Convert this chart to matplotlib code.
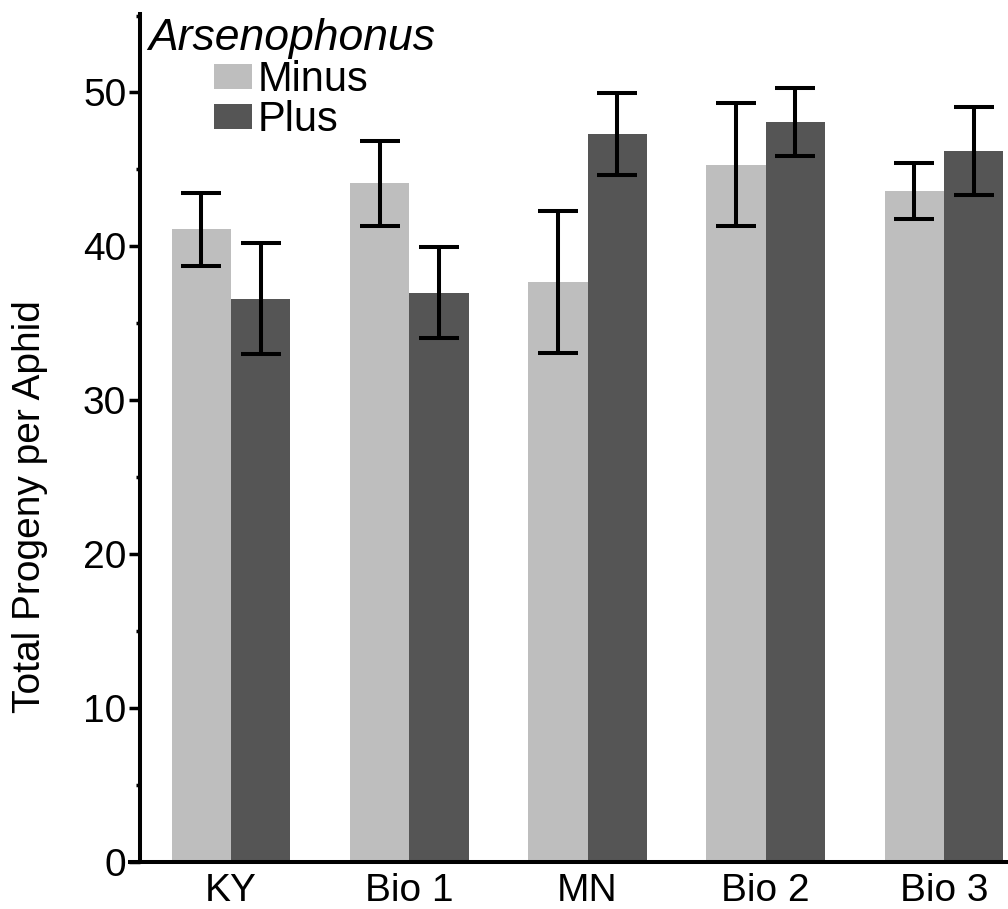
import numpy as np
import matplotlib
matplotlib.use("Agg")
import matplotlib.pyplot as plt
from matplotlib import font_manager
from matplotlib.ticker import MultipleLocator

# police étroite si elle existe, sinon Liberation Sans
noms = [f.name for f in font_manager.fontManager.ttflist]
if 'Liberation Sans Narrow' in noms:
    plt.rcParams['font.family'] = ['Liberation Sans Narrow', 'DejaVu Sans']
else:
    plt.rcParams['font.family'] = ['Liberation Sans', 'DejaVu Sans']

# valeurs
lignees = ['KY', 'Bio 1', 'MN', 'Bio 2', 'Bio 3']
minus = [41.1, 44.1, 37.7, 45.3, 43.6]
minus_err = [2.4, 2.75, 4.6, 4.0, 1.85]
plus = [36.6, 37.0, 47.3, 48.1, 46.2]
plus_err = [3.6, 2.95, 2.65, 2.2, 2.85]

x = np.arange(len(lignees))
w = 0.333

fig = plt.figure(figsize=(10.08, 9.09), dpi=100)
ax = fig.add_axes([130/1008, 1-862/909, 1-130/1008, (862-14)/909])

ax.bar(x - w/2, minus, w, color='#bebebe', label='Minus')
ax.bar(x + w/2, plus, w, color='#555555', label='Plus')
ax.errorbar(x - w/2, minus, yerr=minus_err, fmt='none', ecolor='black',
            elinewidth=2.9, capsize=14.4, capthick=2.9)
ax.errorbar(x + w/2, plus, yerr=plus_err, fmt='none', ecolor='black',
            elinewidth=2.9, capsize=14.4, capthick=2.9)

ax.set_xlim(-0.567, 4.359)
ax.set_ylim(0, 55.1)
ax.spines['left'].set_position(('data', -0.51))
ax.spines['right'].set_visible(False)
ax.spines['top'].set_visible(False)
ax.spines['left'].set_linewidth(2.9)
ax.spines['bottom'].set_linewidth(2.9)

ax.set_xticks(x)
ax.set_xticklabels(lignees)
ax.tick_params(axis='x', length=0, pad=8, labelsize=28)
ax.yaxis.set_major_locator(MultipleLocator(10))
ax.yaxis.set_minor_locator(MultipleLocator(5))
ax.tick_params(axis='y', which='major', length=8, width=2.5, pad=2, labelsize=28)
ax.tick_params(axis='y', which='minor', length=3, width=2.5)

fig.text(30/1008, 1-507/909, 'Total Progeny per Aphid', rotation=90,
         ha='center', va='center', fontsize=28)

leg = ax.legend(loc='upper left', bbox_to_anchor=(148/1008, 1-18/909),
                bbox_transform=fig.transFigure, frameon=False, fontsize=30,
                title='Arsenophonus', title_fontproperties={'size': 32, 'style': 'italic'},
                handlelength=0.9, handleheight=0.55, handletextpad=0.15,
                labelspacing=0.0, borderpad=0, borderaxespad=0)
leg._legend_box.sep = 1

plt.savefig('out.png', dpi=100)
